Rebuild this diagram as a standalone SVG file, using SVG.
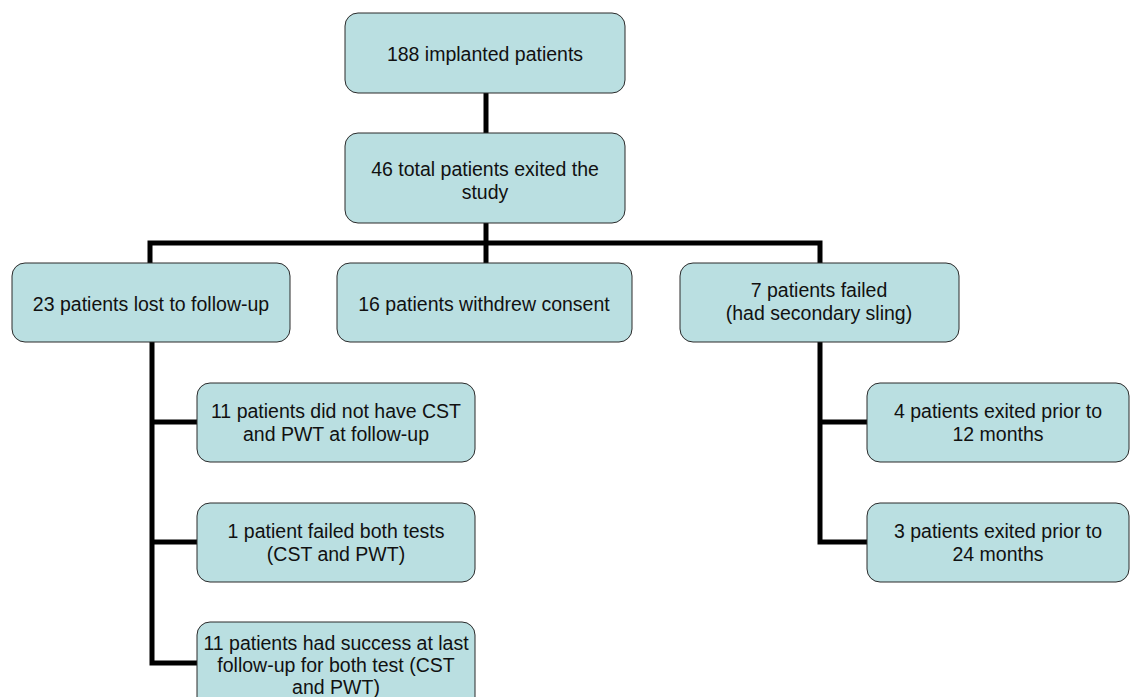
<svg xmlns="http://www.w3.org/2000/svg" width="1134" height="697" viewBox="0 0 1134 697">
<style>
.box{fill:#badfe1;stroke:#2a2a2a;stroke-width:1}
.t{font-family:"Liberation Sans",Arial,sans-serif;font-size:19.5px;fill:#111;text-anchor:middle}
.c{fill:none;stroke:#000;stroke-width:5;stroke-linecap:butt;stroke-linejoin:miter}
</style>
<rect width="1134" height="697" fill="#fff"/>
<g id="connectors">
<path class="c" d="M486 93V133"/>
<path class="c" d="M486 223V263"/>
<path class="c" d="M150 263V243H820V263"/>
<path class="c" d="M152 342V663H197"/>
<path class="c" d="M152 422H197"/>
<path class="c" d="M152 542H197"/>
<path class="c" d="M820 342V542H867"/>
<path class="c" d="M820 422H867"/>
</g>
<g id="n1"><rect class="box" x="345" y="13" width="280" height="80" rx="13"/><text class="t" x="485" y="61">188 implanted patients</text></g>
<g id="n2"><rect class="box" x="345" y="133" width="280" height="90" rx="13"/><text class="t" x="485" y="176">46 total patients exited the</text><text class="t" x="485" y="199">study</text></g>
<g id="n3"><rect class="box" x="12" y="263" width="278" height="79" rx="13"/><text class="t" x="151" y="311">23 patients lost to follow-up</text></g>
<g id="n4"><rect class="box" x="337" y="263" width="295" height="79" rx="13"/><text class="t" x="484" y="311">16 patients withdrew consent</text></g>
<g id="n5"><rect class="box" x="680" y="263" width="279" height="79" rx="13"/><text class="t" x="819" y="297">7 patients failed</text><text class="t" x="819" y="320">(had secondary sling)</text></g>
<g id="n6"><rect class="box" x="197" y="383" width="278" height="79" rx="13"/><text class="t" x="336" y="418">11 patients did not have CST</text><text class="t" x="336" y="441">and PWT at follow-up</text></g>
<g id="n7"><rect class="box" x="197" y="503" width="278" height="79" rx="13"/><text class="t" x="336" y="538">1 patient failed both tests</text><text class="t" x="336" y="561">(CST and PWT)</text></g>
<g id="n8"><rect class="box" x="197" y="622" width="278" height="90" rx="13"/><text class="t" x="336" y="650">11 patients had success at last</text><text class="t" x="336" y="672">follow-up for both test (CST</text><text class="t" x="336" y="694">and PWT)</text></g>
<g id="n9"><rect class="box" x="867" y="383" width="262" height="79" rx="13"/><text class="t" x="998" y="418">4 patients exited prior to</text><text class="t" x="998" y="441">12 months</text></g>
<g id="n10"><rect class="box" x="867" y="503" width="262" height="79" rx="13"/><text class="t" x="998" y="538">3 patients exited prior to</text><text class="t" x="998" y="561">24 months</text></g>
</svg>
